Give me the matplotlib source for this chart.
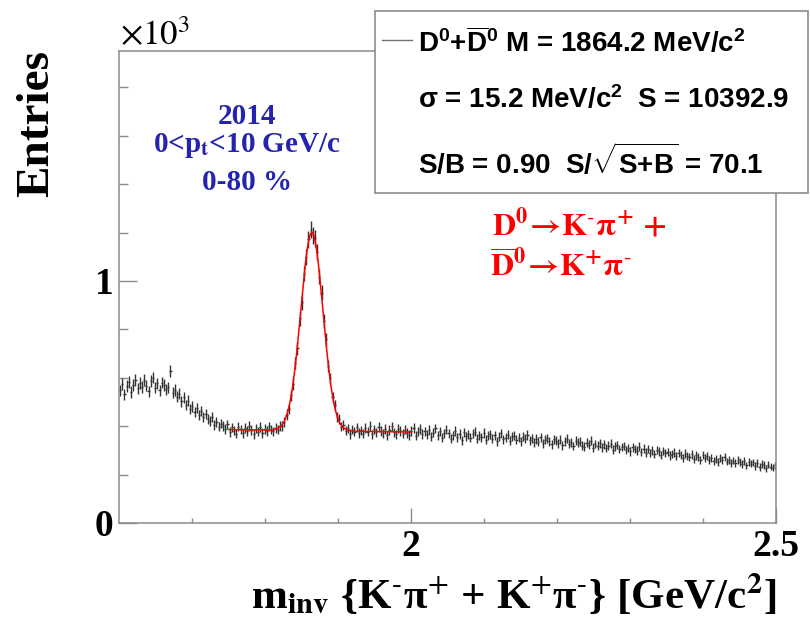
import numpy as np
import matplotlib
matplotlib.use("Agg")
import matplotlib.pyplot as plt
from matplotlib.patches import Rectangle
from matplotlib.lines import Line2D

plt.rcParams['mathtext.fontset'] = 'custom'
plt.rcParams['mathtext.rm'] = 'Liberation Sans:bold'
plt.rcParams['mathtext.bf'] = 'Liberation Sans:bold'
plt.rcParams['mathtext.it'] = 'Liberation Sans:bold:italic'

# ---------------- data ----------------
mass_lo = 1.6
mass_hi = 2.5
n_bins = 300

counts = [
    548, 575, 532, 566, 583, 541, 570, 590, 556, 578,
    561, 592, 568, 544, 586, 601, 559, 577, 548, 580,
    571, 552, 560, 628, 538, 549, 521, 534, 503, 519,
    488, 506, 470, 482, 459, 476, 447, 462, 438, 451,
    429, 421, 437, 405, 418, 398, 411, 402, 389, 407,
    376, 395, 382, 369, 398, 387, 371, 393, 380, 401,
    384, 366, 390, 377, 396, 372, 388, 381, 399, 386,
    379, 392, 386, 401, 402, 418, 448, 470, 527, 574,
    661, 722, 845, 911, 1030, 1098, 1172, 1212, 1189, 1176,
    1120, 1018, 951, 836, 759, 648, 597, 519, 487, 439,
    428, 398, 405, 382, 391, 368, 386, 377, 395, 372,
    383, 369, 392, 378, 401, 366, 387, 374, 396, 381,
    370, 388, 362, 384, 399, 375, 367, 390, 381, 369,
    386, 372, 364, 381, 393, 360, 377, 388, 368, 379,
    366, 384, 357, 373, 391, 362, 379, 352, 370, 386,
    371, 349, 362, 380, 355, 368, 341, 374, 359, 366,
    352, 369, 377, 348, 363, 355, 372, 344, 361, 366,
    349, 362, 338, 357, 371, 346, 353, 365, 340, 358,
    361, 344, 352, 337, 356, 348, 364, 341, 350, 333,
    347, 336, 355, 329, 344, 351, 338, 325, 346, 340,
    330, 343, 321, 338, 349, 327, 334, 318, 340, 331,
    335, 320, 316, 331, 324, 339, 311, 326, 319, 330,
    312, 325, 309, 320, 328, 303, 317, 322, 306, 314,
    318, 301, 310, 296, 313, 305, 299, 316, 294, 307,
    291, 305, 289, 300, 284, 302, 296, 281, 298, 290,
    294, 279, 286, 291, 275, 289, 282, 270, 287, 278,
    271, 283, 266, 279, 273, 262, 280, 268, 275, 259,
    270, 257, 264, 252, 268, 259, 273, 254, 262, 249,
    258, 247, 262, 251, 243, 256, 238, 252, 245, 250,
    236, 248, 231, 244, 239, 226, 241, 233, 228, 238,
]

# fit parameters (shown in the legend)
fit_mass = 1.8642
fit_sigma = 0.0152
fit_signal = 10392.9
fit_range = [1.75, 2.0]
fit_bkg = [386.0, 376.0]   # linear background at the ends of the fit range

x_ticks = [2.0, 2.5]
x_ticklabels = ['2', '2.5']
y_ticks = [0, 1000]
y_ticklabels = ['0', '1']

legend_rows = [
    r'D$^{0}$+$\overline{\mathrm{D}}^{0}$ M = 1864.2 MeV/c$^{2}$',
    r'σ = 15.2 MeV/c$^{2}$  S = 10392.9',
    r'S/B = 0.90  S/$\sqrt{\mathrm{S{+}B}}$ = 70.1',
]

# ---------------- figure ----------------
W, H = 810, 626
fig = plt.figure(figsize=(W / 100, H / 100), dpi=100)

def fx(px):
    return px / W

def fy(py):
    return (H - py) / H

ax = fig.add_axes([fx(119), fy(523), fx(776) - fx(119), fy(51) - fy(523)])

counts_arr = np.array(counts, dtype=float)
edges = np.linspace(mass_lo, mass_hi, n_bins + 1)
centers = 0.5 * (edges[:-1] + edges[1:])
bin_w = edges[1] - edges[0]

ax.errorbar(centers, counts_arr, yerr=np.sqrt(counts_arr), xerr=bin_w / 2,
            fmt='none', ecolor='#333333', elinewidth=1.0, capsize=0, zorder=2)

xf = np.linspace(fit_range[0], fit_range[1], 600)
bkg = fit_bkg[0] + (fit_bkg[1] - fit_bkg[0]) * (xf - fit_range[0]) / (fit_range[1] - fit_range[0])
amp = fit_signal * bin_w / (np.sqrt(2 * np.pi) * fit_sigma)
yf = bkg + amp * np.exp(-0.5 * ((xf - fit_mass) / fit_sigma) ** 2)
ax.plot(xf, yf, color='#ff0000', lw=1.1, zorder=3)

ax.set_xlim(mass_lo, mass_hi)
ax.set_ylim(0, 1950)

frame_col = '#8c8c8c'
for s in ax.spines.values():
    s.set_color(frame_col)
    s.set_linewidth(1.1)

ax.set_xticks(x_ticks)
ax.set_xticklabels(x_ticklabels)
ax.set_xticks(np.arange(1.7, 2.45, 0.1), minor=True)
ax.set_yticks(y_ticks)
ax.set_yticklabels(y_ticklabels)
ax.set_yticks(np.arange(200, 1950, 200), minor=True)

ax.tick_params(axis='x', which='major', direction='in', length=10.8, width=1.0,
               color=frame_col, pad=4)
ax.tick_params(axis='x', which='minor', direction='in', length=3.6, width=1.0,
               color=frame_col)
ax.tick_params(axis='y', which='major', direction='in', length=13, width=1.0,
               color=frame_col, pad=4)
ax.tick_params(axis='y', which='minor', direction='in', length=6.5, width=1.0,
               color=frame_col)
for lab in ax.get_xticklabels() + ax.get_yticklabels():
    lab.set_fontfamily('Liberation Serif')
    lab.set_fontweight('bold')
    lab.set_fontsize(27)

serif_bold = dict(fontfamily='Liberation Serif', fontweight='bold', math_fontfamily='stix')

# axis titles
fig.text(fx(776), fy(608),
         r'm$_{\mathbf{inv}}$ {K$^{\text{-}}$π$^{+}$ + K$^{+}$π$^{\text{-}}$} [GeV/c$^{\mathbf{2}}$]',
         ha='right', va='baseline', fontsize=31, **serif_bold)
fig.text(fx(37), fy(50), 'Entries', rotation=90, ha='center', va='top',
         fontsize=34, fontfamily='Liberation Serif', fontweight='bold')
fig.text(fx(120), fy(45), r'$\times\mathrm{10}^{3}$', ha='left', va='baseline',
         fontsize=25, math_fontfamily='stix')

# blue annotation
blue = '#2424b0'
fig.text(fx(247), fy(117), '2014', ha='center', va='center',
         fontsize=21, color=blue, **serif_bold)
fig.text(fx(247), fy(142), r'0<p$_{\mathbf{t}}$<10 GeV/c', ha='center',
         va='center_baseline', fontsize=21, color=blue, **serif_bold)
fig.text(fx(247), fy(182), '0-80 %', ha='center', va='center',
         fontsize=21, color=blue, **serif_bold)

# red annotation
fig.text(fx(492), fy(225), r'$\mathbf{D^{0}\!{\rightarrow}\!K^{\text{-}}\pi^{+}\ {+}}$',
         ha='left', va='center', fontsize=23, color='#ff0000', math_fontfamily='stix')
fig.text(fx(490), fy(267), r'$\mathbf{\overline{D}^{0}\!{\rightarrow}\!K^{+}\pi^{\text{-}}}$',
         ha='left', va='center', fontsize=23, color='#ff0000', math_fontfamily='stix')

# legend box
box = Rectangle((fx(375), fy(193)), fx(808) - fx(375), fy(11) - fy(193),
                transform=fig.transFigure, facecolor='white', edgecolor=frame_col,
                linewidth=1.2, zorder=10)
fig.add_artist(box)
fig.add_artist(Line2D([fx(382), fx(412)], [fy(40), fy(40)], transform=fig.transFigure,
                      color='#707070', lw=1.0, zorder=11))
row_y = [43, 100, 162]
for txt, yy in zip(legend_rows, row_y):
    fig.text(fx(418), fy(yy), txt, ha='left', va='center', fontsize=20,
             fontfamily='Liberation Sans', fontweight='bold',
             math_fontfamily='custom', color='black', zorder=12)

fig.savefig('out.png', dpi=100)
